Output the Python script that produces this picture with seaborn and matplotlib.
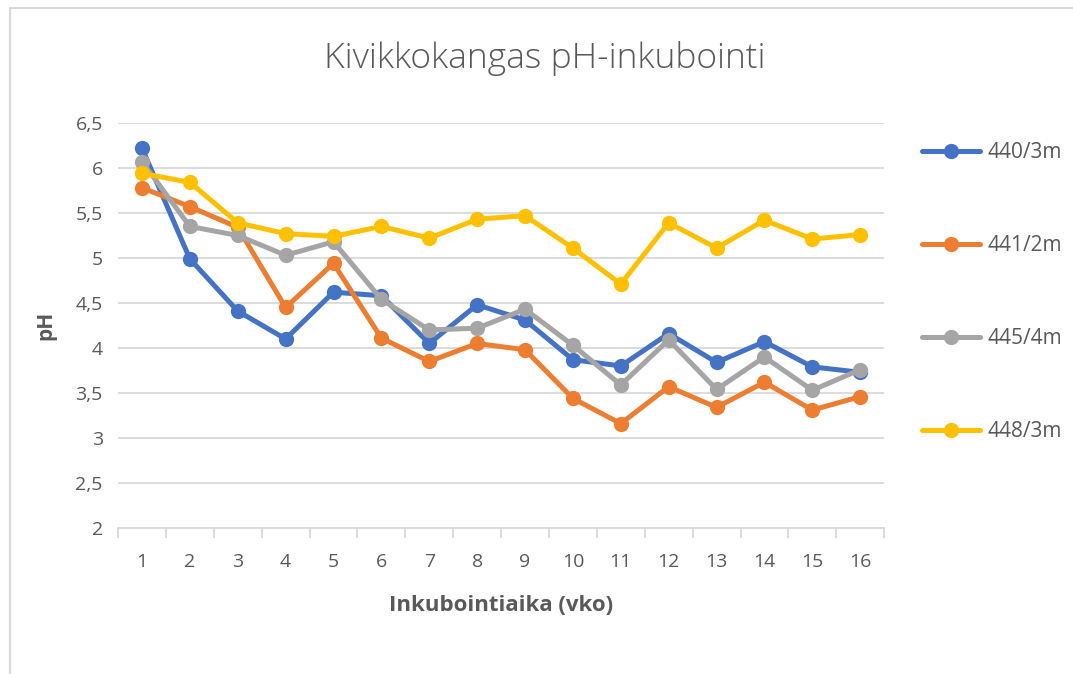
import pandas as pd
import matplotlib
matplotlib.use('agg')
import seaborn as sns
import matplotlib.pyplot as plt
from matplotlib.lines import Line2D
from matplotlib.ticker import FuncFormatter, MultipleLocator

weeks = list(range(1, 17))
ph_440 = [6.22, 4.99, 4.41, 4.10, 4.62, 4.58, 4.05, 4.48, 4.31, 3.87, 3.80, 4.16, 3.84, 4.07, 3.79, 3.73]
ph_441 = [5.78, 5.57, 5.34, 4.45, 4.94, 4.11, 3.85, 4.05, 3.98, 3.44, 3.16, 3.57, 3.34, 3.62, 3.31, 3.46]
ph_445 = [6.07, 5.35, 5.25, 5.03, 5.18, 4.54, 4.20, 4.22, 4.43, 4.03, 3.59, 4.09, 3.54, 3.90, 3.53, 3.76]
ph_448 = [5.94, 5.84, 5.39, 5.27, 5.24, 5.35, 5.22, 5.43, 5.47, 5.11, 4.71, 5.39, 5.11, 5.42, 5.21, 5.26]
series = ["440/3m", "441/2m", "445/4m", "448/3m"]
colors = ["#4472C4", "#ED7D31", "#A5A5A5", "#FFC000"]

df = pd.concat([
    pd.DataFrame({"vko": weeks, "pH": vals, "sarja": name})
    for name, vals in zip(series, [ph_440, ph_441, ph_445, ph_448])
])

sns.set_style("white")
plt.rcParams['font.family'] = ['Open Sans', 'DejaVu Sans']
txt = "#595959"

fig = plt.figure(figsize=(10.73, 6.74), dpi=100)
ax = fig.add_axes([0.110, 0.2166, 0.714, 0.601])

sns.lineplot(data=df, x="vko", y="pH", hue="sarja", palette=colors,
             marker="o", markersize=11, markeredgewidth=0, linewidth=3.6,
             ax=ax, legend=False)

ax.set_xlim(0.5, 16.5)
ax.set_ylim(2, 6.5)
ax.yaxis.set_major_locator(MultipleLocator(0.5))
ax.yaxis.set_major_formatter(FuncFormatter(lambda v, p: ("%g" % v).replace(".", ",")))
ax.set_xticks(weeks)
ax.set_xticks([w + 0.5 for w in [0] + weeks], minor=True)
ax.grid(axis="y", color="#D9D9D9", linewidth=1.3)
ax.set_axisbelow(True)
for s in ["top", "right", "left"]:
    ax.spines[s].set_visible(False)
ax.spines["bottom"].set_color("#D9D9D9")
ax.spines["bottom"].set_linewidth(1.3)
ax.tick_params(axis="x", which="major", length=0, pad=18, labelsize=14, labelcolor=txt)
ax.tick_params(axis="x", which="minor", length=7, width=1.3, color="#D9D9D9", bottom=True)
ax.tick_params(axis="y", length=0, pad=11, labelsize=14, labelcolor=txt)

ax.set_xlabel("Inkubointiaika (vko)", fontsize=16, fontweight="bold", color=txt, labelpad=17)
ax.set_ylabel("pH", fontsize=15, fontweight="bold", color=txt, labelpad=14)
fig.text(0.508, 0.913, "Kivikkokangas pH-inkubointi", ha="center", va="center",
         fontsize=25.5, color=txt, fontweight="light")

handles = [Line2D([], [], color=c, lw=3.6, marker="o", markersize=11, markeredgewidth=0)
           for c in colors]
fig.legend(handles, series, loc="upper left", bbox_to_anchor=(0.859, 0.789),
           frameon=False, borderpad=0, borderaxespad=0, handlelength=2.8,
           handletextpad=0.35, labelspacing=3.45, fontsize=15, labelcolor=txt)

# chart area border (left and top edges visible)
fig.add_artist(Line2D([0.0093, 0.0093], [0, 0.988], color="#D9D9D9", lw=1.5))
fig.add_artist(Line2D([0.0093, 1], [0.988, 0.988], color="#D9D9D9", lw=1.5))

fig.savefig("out.png", dpi=100)
